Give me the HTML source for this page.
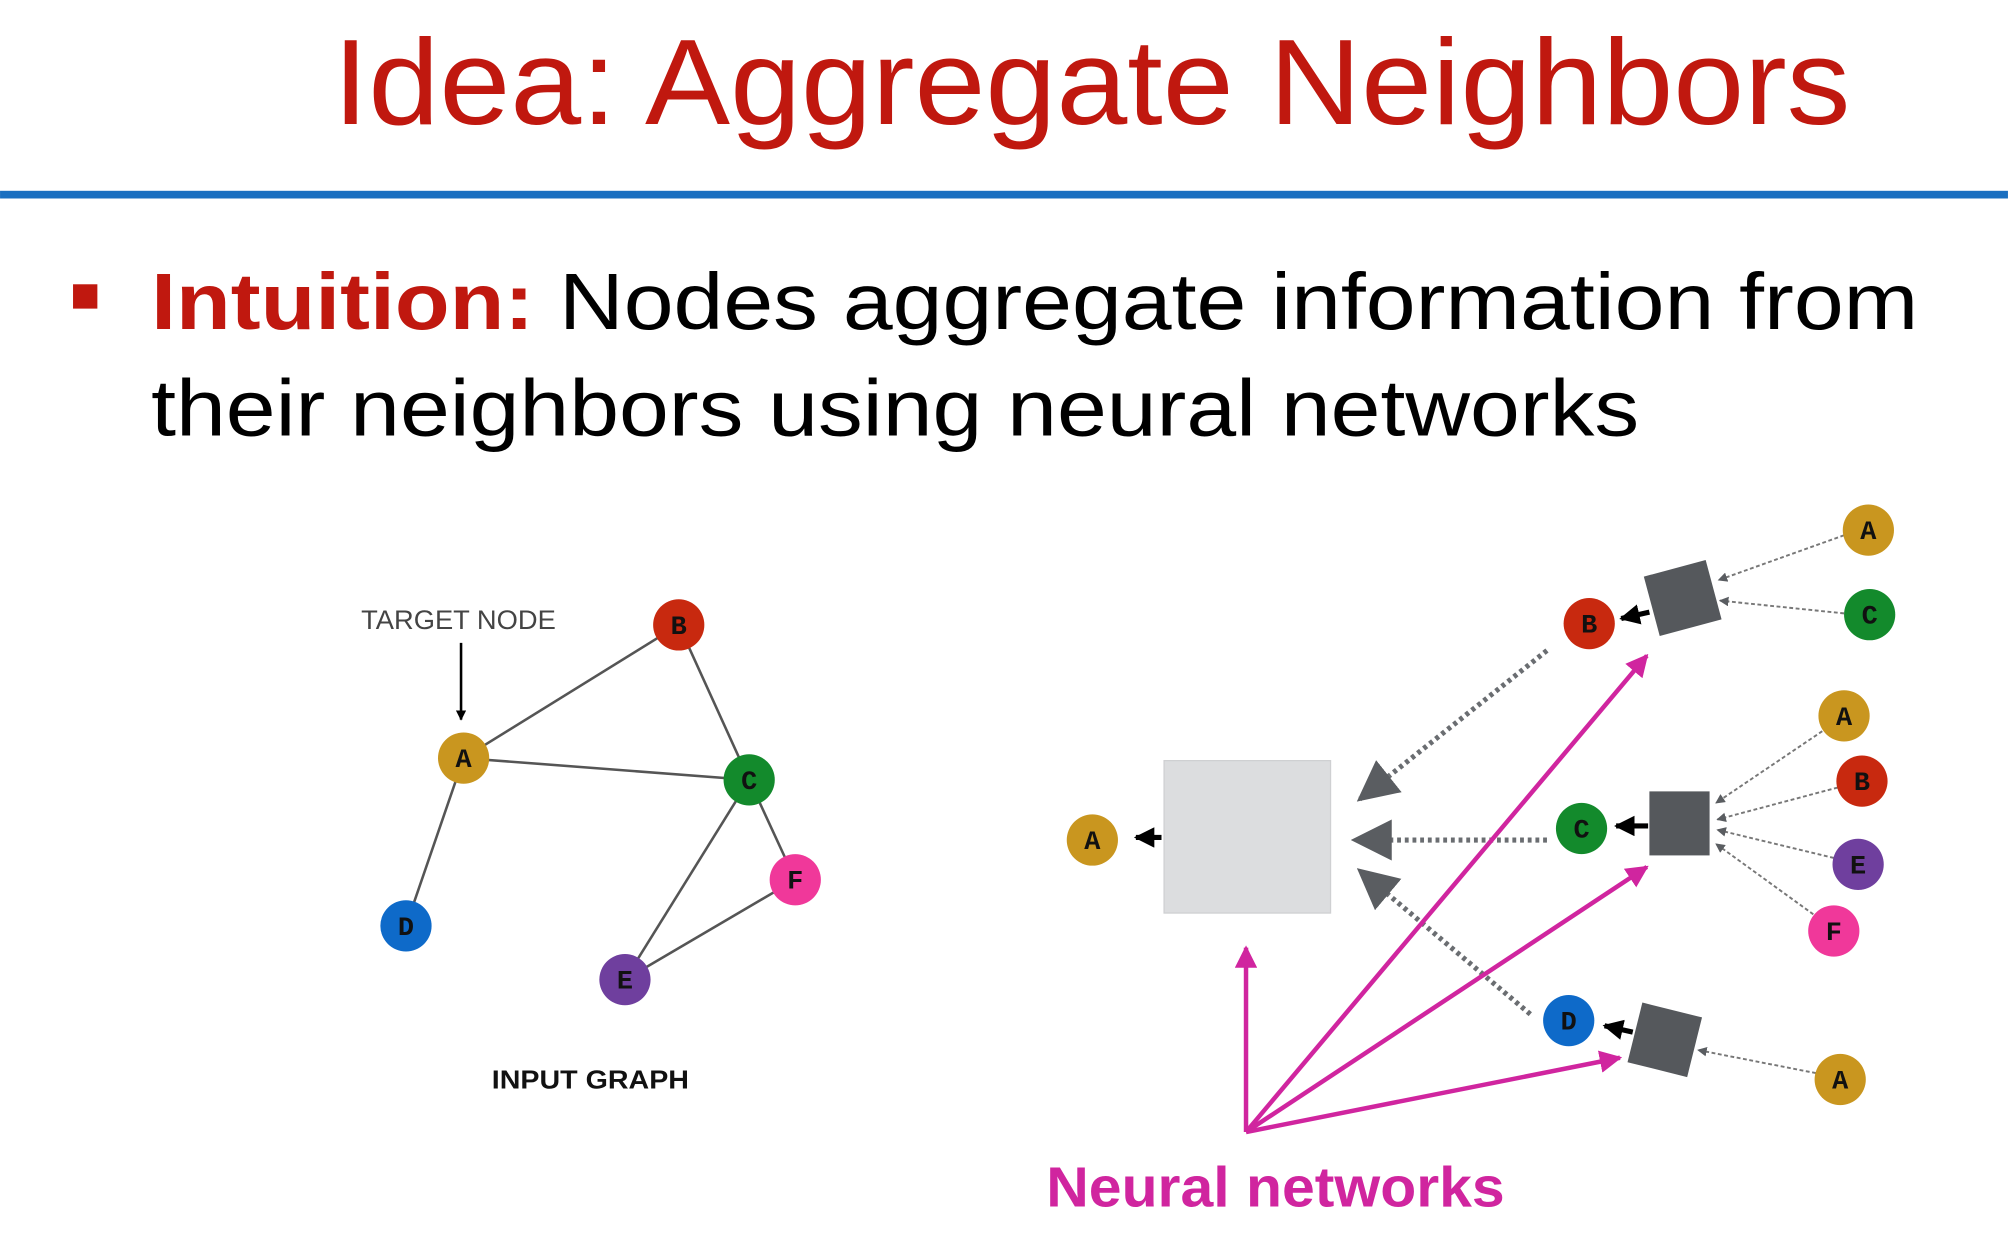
<!DOCTYPE html>
<html><head><meta charset="utf-8"><style>html,body{margin:0;padding:0;background:#fff;width:2008px;height:1252px;overflow:hidden}</style></head><body>
<svg width="2008" height="1252" viewBox="0 0 1568 977.7" xmlns="http://www.w3.org/2000/svg">
<defs>
<marker id="blk" viewBox="0 0 10 10" refX="9" refY="5" markerWidth="4" markerHeight="4" orient="auto"><path d="M0,0L10,5L0,10z" fill="#000"/></marker>
<marker id="gr" viewBox="0 0 10 10" refX="9" refY="5" markerWidth="5" markerHeight="5" orient="auto"><path d="M0,0L10,5L0,10z" fill="#5a5d61"/></marker>
<marker id="grs" viewBox="0 0 10 10" refX="9" refY="5" markerWidth="8" markerHeight="8" orient="auto"><path d="M0,0L10,5L0,10z" fill="#5a5d61"/></marker>
<marker id="mg" viewBox="0 0 10 10" refX="9" refY="5" markerWidth="5" markerHeight="5" orient="auto"><path d="M0,0L10,5L0,10z" fill="#d0259f"/></marker>
</defs>
<text x="260" y="97" font-family="Liberation Sans, sans-serif" font-size="95" fill="#c0180f" textLength="1185" lengthAdjust="spacingAndGlyphs">Idea: Aggregate Neighbors</text>
<rect x="0" y="149" width="1568" height="6" fill="#1a6fc0"/>
<rect x="57" y="222" width="19" height="19" fill="#c0180f"/>
<text x="118" y="257" font-family="Liberation Sans, sans-serif" font-size="62" textLength="1380" lengthAdjust="spacingAndGlyphs"><tspan fill="#c0180f" font-weight="bold">Intuition:</tspan><tspan fill="#000"> Nodes aggregate information from</tspan></text>
<text x="118" y="340" font-family="Liberation Sans, sans-serif" font-size="62" fill="#000" textLength="1162" lengthAdjust="spacingAndGlyphs">their neighbors using neural networks</text>
<text x="282" y="491" font-family="Liberation Sans, sans-serif" font-size="21" fill="#444" textLength="152" lengthAdjust="spacingAndGlyphs">TARGET NODE</text>
<line x1="360" y1="502" x2="360" y2="562" stroke="#000" stroke-width="2" marker-end="url(#blk)"/>
<g stroke="#555" stroke-width="2">
<line x1="362" y1="592" x2="530" y2="488"/><line x1="530" y1="488" x2="585" y2="609"/><line x1="362" y1="592" x2="585" y2="609"/>
<line x1="362" y1="592" x2="317" y2="723"/><line x1="585" y1="609" x2="621" y2="687"/><line x1="585" y1="609" x2="488" y2="765"/><line x1="488" y1="765" x2="621" y2="687"/>
</g>
<text x="384" y="850" font-family="Liberation Sans, sans-serif" font-size="20" font-weight="bold" fill="#111" textLength="154" lengthAdjust="spacingAndGlyphs">INPUT GRAPH</text>
<!-- right -->
<rect x="909" y="594" width="130" height="119" fill="#dcdddf" stroke="#cfd0d2"/>
<line x1="907" y1="654" x2="887" y2="654" stroke="#000" stroke-width="4" marker-end="url(#blk)"/>
<g stroke="#6a6d71" stroke-width="4" stroke-dasharray="3,3">
<line x1="1208" y1="508" x2="1062" y2="624" marker-end="url(#grs)"/>
<line x1="1208" y1="656" x2="1058" y2="656" marker-end="url(#grs)"/>
<line x1="1195" y1="792" x2="1062" y2="680" marker-end="url(#grs)"/>
</g>
<g fill="#55585c">
<rect x="1289" y="443" width="50" height="48" transform="rotate(-15 1314 467)"/>
<rect x="1288" y="618" width="47" height="50"/>
<rect x="1276" y="788" width="48" height="48" transform="rotate(14 1300 812)"/>
</g>
<g stroke="#000" stroke-width="4">
<line x1="1288" y1="478" x2="1266" y2="483" marker-end="url(#blk)"/>
<line x1="1287" y1="645" x2="1262" y2="645" marker-end="url(#blk)"/>
<line x1="1275" y1="806" x2="1253" y2="801" marker-end="url(#blk)"/>
</g>
<g stroke="#777" stroke-width="1.5" stroke-dasharray="3,2">
<line x1="1440" y1="418" x2="1342" y2="453" marker-end="url(#gr)"/>
<line x1="1440" y1="479" x2="1343" y2="469" marker-end="url(#gr)"/>
<line x1="1423" y1="571" x2="1340" y2="627" marker-end="url(#gr)"/>
<line x1="1435" y1="615" x2="1341" y2="640" marker-end="url(#gr)"/>
<line x1="1432" y1="670" x2="1341" y2="648" marker-end="url(#gr)"/>
<line x1="1416" y1="714" x2="1340" y2="659" marker-end="url(#gr)"/>
<line x1="1418" y1="838" x2="1326" y2="820" marker-end="url(#gr)"/>
</g>
<g stroke="#d0259f" stroke-width="3.5" fill="none">
<line x1="973" y1="884" x2="973" y2="740" marker-end="url(#mg)"/>
<line x1="973" y1="884" x2="1286" y2="512" marker-end="url(#mg)"/>
<line x1="973" y1="884" x2="1286" y2="677" marker-end="url(#mg)"/>
<line x1="973" y1="884" x2="1265" y2="826" marker-end="url(#mg)"/>
</g>
<text x="817" y="942" font-family="Liberation Sans, sans-serif" font-size="44" font-weight="bold" fill="#d0259f" textLength="358" lengthAdjust="spacingAndGlyphs">Neural networks</text>
<g font-family="Liberation Mono, monospace" font-weight="bold" font-size="21" text-anchor="middle" fill="#111">
<circle cx="530" cy="488" r="20" fill="#c8290f"/><text x="530" y="495">B</text>
<circle cx="362" cy="592" r="20" fill="#c9961f"/><text x="362" y="599">A</text>
<circle cx="585" cy="609" r="20" fill="#138a2c"/><text x="585" y="616">C</text>
<circle cx="317" cy="723" r="20" fill="#0e6ac9"/><text x="317" y="730">D</text>
<circle cx="621" cy="687" r="20" fill="#f0389a"/><text x="621" y="694">F</text>
<circle cx="488" cy="765" r="20" fill="#6f3f9e"/><text x="488" y="772">E</text>
<circle cx="853" cy="656" r="20" fill="#c9961f"/><text x="853" y="663">A</text>
<circle cx="1241" cy="487" r="20" fill="#c8290f"/><text x="1241" y="494">B</text>
<circle cx="1235" cy="647" r="20" fill="#138a2c"/><text x="1235" y="654">C</text>
<circle cx="1225" cy="797" r="20" fill="#0e6ac9"/><text x="1225" y="804">D</text>
<circle cx="1459" cy="414" r="20" fill="#c9961f"/><text x="1459" y="421">A</text>
<circle cx="1460" cy="480" r="20" fill="#138a2c"/><text x="1460" y="487">C</text>
<circle cx="1440" cy="559" r="20" fill="#c9961f"/><text x="1440" y="566">A</text>
<circle cx="1454" cy="610" r="20" fill="#c8290f"/><text x="1454" y="617">B</text>
<circle cx="1451" cy="675" r="20" fill="#6f3f9e"/><text x="1451" y="682">E</text>
<circle cx="1432" cy="727" r="20" fill="#f0389a"/><text x="1432" y="734">F</text>
<circle cx="1437" cy="843" r="20" fill="#c9961f"/><text x="1437" y="850">A</text>
</g>
</svg>
</body></html>
